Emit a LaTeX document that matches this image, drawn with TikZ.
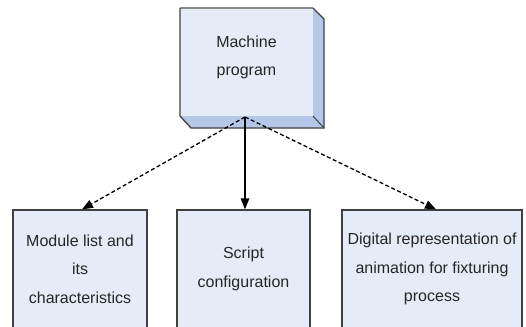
\documentclass[tikz,border=0pt]{standalone}
\usepackage{fontspec}
\setmainfont{Liberation Sans}
\usetikzlibrary{calc,arrows.meta}

\definecolor{faceblue}{RGB}{229,235,247}
\definecolor{shadeblue}{RGB}{180,199,231}
\definecolor{edgegray}{RGB}{64,64,64}
\definecolor{topgray}{RGB}{140,140,140}

\tikzset{
  lbl/.style={font=\fontsize{16}{28.5}\selectfont, text=black!85, align=center, inner sep=0pt},
  flatbox/.style={lbl, draw=edgegray, line width=1.3pt, fill=faceblue,
                  minimum height=118pt, inner sep=0pt},
  link/.style={-{Triangle[length=11pt,width=8.5pt]}, line width=1.3pt, black},
  dashlink/.style={link, dash pattern=on 4pt off 2.5pt}
}

\begin{document}
\begin{tikzpicture}[x=1pt,y=-1pt]
\useasboundingbox (0,0) rectangle (526,326);
\clip (0,0) rectangle (526,326);

% raised box: front face, right side and bottom bevel
\fill[faceblue] (180,8) rectangle (313,116);
\fill[shadeblue] (313,8) -- (324,19) -- (324,128) -- (313,116) -- cycle;
\fill[shadeblue] (180,116) -- (313,116) -- (324,128) -- (191,128) -- cycle;
\draw[topgray, line width=1.5pt] (180,8) -- (313,8);
\draw[edgegray, line width=1.3pt] (313,8) -- (324,19) -- (324,128) -- (191,128) -- (180,116) -- (180,8);
\draw[edgegray, line width=1pt] (313,116) -- (324,128);
\node[lbl] (machine) at (246.5,57.5) {Machine\\program};
\coordinate (hub) at (245,117);

% lower boxes
\node[flatbox, minimum width=134pt] (modules) at (80,269)
  {Module list and\\its\\characteristics};
\node[flatbox, minimum width=133pt] (script) at (243.5,269)
  {Script\\configuration};
\node[flatbox, minimum width=180pt] (digital) at (432,269)
  {Digital representation of\\animation for fixturing\\process};

% connectors
\draw[dashlink] (hub) -- ($(modules.north)+(2,0)$);
\draw[link] (hub) -- (hub |- script.north);
\draw[dashlink] (hub) -- ($(digital.north)+(4,0)$);
\end{tikzpicture}
\end{document}
